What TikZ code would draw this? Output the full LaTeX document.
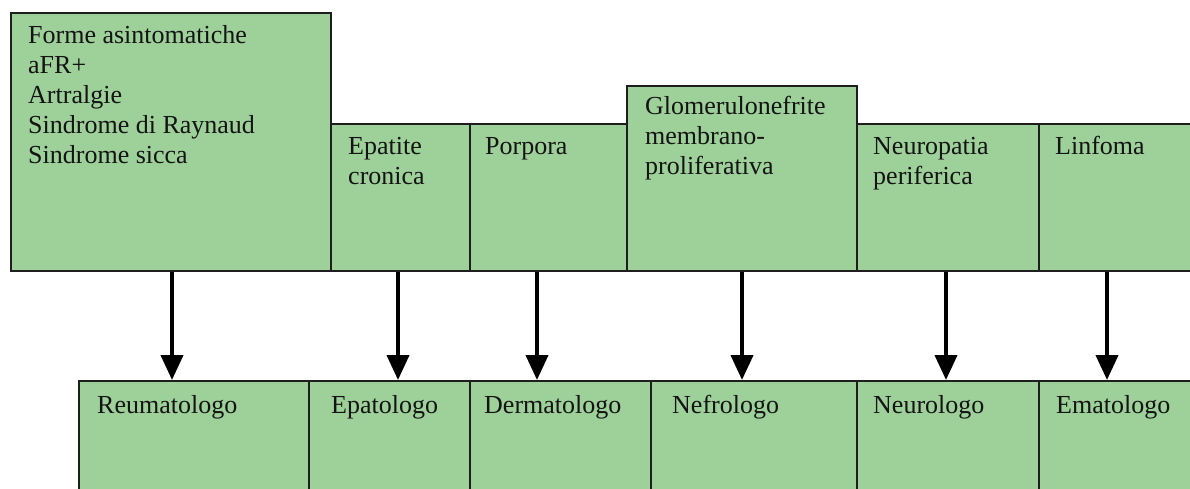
\documentclass[tikz,border=0pt]{standalone}
\usepackage{fontspec}
\setmainfont{Liberation Serif}
\usetikzlibrary{arrows.meta}
\definecolor{boxgreen}{RGB}{158,208,153}
\definecolor{edgecol}{RGB}{30,30,30}
\tikzset{
  box/.style={draw=edgecol, fill=boxgreen, line width=2pt, inner sep=0pt, anchor=north west},
  lbl/.style={anchor=base west, inner sep=0pt, font=\fontsize{26}{30}\selectfont, text=black!92},
  arr/.style={line width=4pt, -{Triangle[width=22pt,length=25pt]}}
}
\newcommand{\mlines}[1]{\begin{tabular}[t]{@{}l@{}}#1\end{tabular}}
\begin{document}
\begin{tikzpicture}[x=1pt,y=-1pt]
\useasboundingbox (0,0) rectangle (1190,488);
\clip (0,0) rectangle (1190,488);
% top row
\node[box, minimum width=320pt, minimum height=258pt] (t1) at (10,12) {};
\node[box, minimum width=139pt, minimum height=147pt] (t2) at (330,123) {};
\node[box, minimum width=157pt, minimum height=147pt] (t3) at (469,123) {};
\node[box, minimum width=182pt, minimum height=147pt] (t5) at (856,123) {};
\node[box, minimum width=200pt, minimum height=147pt] (t6) at (1038,123) {};
\node[box, minimum width=230pt, minimum height=185pt] (t4) at (626,85) {};
% bottom row
\node[box, minimum width=230pt, minimum height=150pt] (b1) at (78,380) {};
\node[box, minimum width=161pt, minimum height=150pt] (b2) at (308,380) {};
\node[box, minimum width=181pt, minimum height=150pt] (b3) at (469,380) {};
\node[box, minimum width=206pt, minimum height=150pt] (b4) at (650,380) {};
\node[box, minimum width=182pt, minimum height=150pt] (b5) at (856,380) {};
\node[box, minimum width=200pt, minimum height=150pt] (b6) at (1038,380) {};
% labels
\node[lbl] (l1) at (28,43) {\mlines{Forme asintomatiche\\aFR+\\Artralgie\\Sindrome di Raynaud\\Sindrome sicca}};
\node[lbl] (l2) at (348,154) {\mlines{Epatite\\cronica}};
\node[lbl] (l3) at (485,154) {Porpora};
\node[lbl] (l4) at (645,114) {\mlines{Glomerulonefrite\\membrano-\\proliferativa}};
\node[lbl] (l5) at (873,154) {\mlines{Neuropatia\\periferica}};
\node[lbl] (l6) at (1055,154) {Linfoma};
\node[lbl] (m1) at (97,413) {Reumatologo};
\node[lbl] (m2) at (331,413) {Epatologo};
\node[lbl] (m3) at (484,413) {Dermatologo};
\node[lbl] (m4) at (672,413) {Nefrologo};
\node[lbl] (m5) at (873,413) {Neurologo};
\node[lbl] (m6) at (1056,413) {Ematologo};
% arrows
\draw[arr] ([xshift=1pt]t1.south) -- ([xshift=1pt]t1.south |- b1.north);
\draw[arr] ([xshift=-2.5pt]t2.south) -- ([xshift=-2.5pt]t2.south |- b2.north);
\draw[arr] ([xshift=-11.5pt]t3.south) -- ([xshift=-11.5pt]t3.south |- b3.north);
\draw[arr] (t4.south) -- (t4.south |- b4.north);
\draw[arr] ([xshift=-2pt]t5.south) -- ([xshift=-2pt]t5.south |- b5.north);
\draw[arr] ([xshift=-32pt]t6.south) -- ([xshift=-32pt]t6.south |- b6.north);
\end{tikzpicture}
\end{document}
